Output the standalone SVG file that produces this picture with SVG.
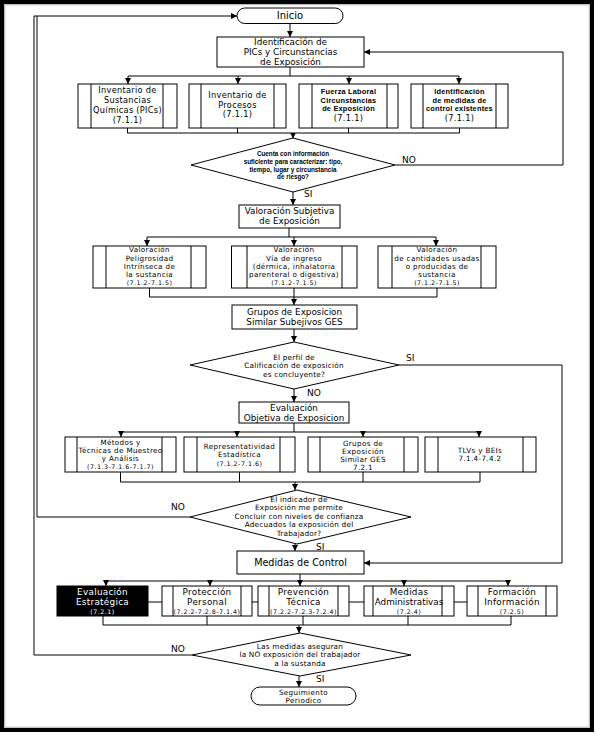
<svg xmlns="http://www.w3.org/2000/svg" width="596" height="735" viewBox="0 0 596 735">
<defs>
<marker id="arr" viewBox="0 0 10 10" refX="10" refY="5" markerWidth="6" markerHeight="6" markerUnits="userSpaceOnUse" orient="auto">
<path d="M0,0 L10,5 L0,10 z" fill="#000"/>
</marker>
</defs>
<style>
.bx{fill:#fff;stroke:#000;stroke-width:1}
.in{stroke:#000;stroke-width:1;fill:none}
.dm{fill:#fff;stroke:#000;stroke-width:1}
.cn path{fill:none;stroke:#000;stroke-width:1}
.ar{marker-end:url(#arr)}
text{font-family:"DejaVu Sans","Liberation Sans",sans-serif;fill:#000;text-anchor:middle}
.t{font-size:8.8px}
.m{font-size:8.2px;letter-spacing:0.3px}
.s{font-size:7.2px;letter-spacing:0.35px}
.c{font-size:6.3px;letter-spacing:0.5px}
.b{font-family:"Liberation Sans",sans-serif;font-weight:bold;font-size:7.4px;letter-spacing:0.2px}
.d1{font-family:"Liberation Sans",sans-serif;font-weight:bold;font-size:6.3px}
.d{font-size:7.3px;letter-spacing:0.2px}
.l{font-size:9px;text-anchor:start}
.w{fill:#fff}
</style>
<rect x="2" y="2" width="590" height="728" fill="#fff" stroke="#000" stroke-width="4"/>
<rect x="4.8" y="4.8" width="584.4" height="722.4" fill="none" stroke="#999" stroke-width="0.8"/>

<g id="connectors" class="cn">
<path class="ar" d="M290,23 V37"/>
<path d="M290,67 V76 M128,76 H459"/>
<path class="ar" d="M128,76 V84"/>
<path class="ar" d="M238,76 V84"/>
<path class="ar" d="M349,76 V84"/>
<path class="ar" d="M459,76 V84"/>
<path d="M127.5,128 V133 M237.5,128 V133 M348.5,128 V133 M459.5,128 V133 M127.5,133 H459.5"/>
<path class="ar" d="M293,133 V138.5"/>
<path class="ar" d="M395,165 H563 V52 H364"/>
<path class="ar" d="M293,192 V205"/>
<path d="M289,228 V237 M147,237 H436"/>
<path class="ar" d="M147,237 V246"/>
<path class="ar" d="M294,237 V246"/>
<path class="ar" d="M436,237 V246"/>
<path d="M149.5,288 V297 M294,288 V297 M437,288 V297 M149.5,297 H437"/>
<path class="ar" d="M294,297 V305"/>
<path class="ar" d="M294,329 V342"/>
<path class="ar" d="M399,365 H562 V563 H364"/>
<path class="ar" d="M294,389 V402"/>
<path d="M294,423 V432 M121,432 H479"/>
<path class="ar" d="M121,432 V437"/>
<path class="ar" d="M237,432 V437"/>
<path class="ar" d="M363,432 V437"/>
<path class="ar" d="M479,432 V437"/>
<path d="M120.5,472 V482 M239.5,472 V482 M363,472 V482 M480,472 V482 M120.5,482 H480"/>
<path class="ar" d="M295,482 V490"/>
<path d="M190,517 H37 V16"/>
<path class="ar" d="M192,655 H34 V16 H237"/>
<path class="ar" d="M295,544 V551"/>
<path d="M300,574 V581 M106,581 H508"/>
<path class="ar" d="M106,581 V586"/>
<path class="ar" d="M210,581 V586"/>
<path class="ar" d="M300,581 V586"/>
<path class="ar" d="M404,581 V586"/>
<path class="ar" d="M508,581 V586"/>
<path d="M148,602 H162 M252,602 H258 M349,602 H364 M454,602 H467"/>
<path d="M103,616 V625 M207,616 V625 M303,616 V625 M408,616 V625 M511,616 V625 M103,625 H511"/>
<path class="ar" d="M299,625 V633"/>
<path class="ar" d="M299,676 V687"/>
</g>

<g id="inicio">
<rect class="bx" x="237" y="8" width="106" height="15.5" rx="7.75"/>
<text x="290" y="19.3" font-size="10">Inicio</text>
</g>

<g id="identificacion">
<rect class="bx" x="217" y="37" width="147" height="30"/>
<text class="t" x="290.5" y="45">Identificación de</text>
<text class="t" x="290.5" y="55">PICs y Circunstancias</text>
<text class="t" x="290.5" y="65">de Exposición</text>
</g>

<g id="inv-sustancias">
<rect class="bx" x="78" y="84" width="99" height="44"/>
<path class="in" d="M91,84 V128 M163,84 V128"/>
<text class="m" x="127.5" y="93">Inventario de</text>
<text class="m" x="127.5" y="103">Sustancias</text>
<text class="m" x="127.5" y="113">Químicas (PICs)</text>
<text class="m" x="127.5" y="122.5">(7.1.1)</text>
</g>

<g id="inv-procesos">
<rect class="bx" x="189" y="84" width="97" height="44"/>
<path class="in" d="M201,84 V128 M274,84 V128"/>
<text class="m" x="237.5" y="98">Inventario de</text>
<text class="m" x="237.5" y="107.5">Procesos</text>
<text class="m" x="237.5" y="117">(7.1.1)</text>
</g>

<g id="fuerza-laboral">
<rect class="bx" x="299" y="84" width="99" height="44"/>
<path class="in" d="M312,84 V128 M387,84 V128"/>
<text class="b" x="348.5" y="94">Fuerza Laboral</text>
<text class="b" x="348.5" y="102.5">Circunstancias</text>
<text class="b" x="348.5" y="111">de Exposición</text>
<text class="m" x="348.5" y="120.5">(7.1.1)</text>
</g>

<g id="medidas-existentes">
<rect class="bx" x="411" y="84" width="97" height="44"/>
<path class="in" d="M423,84 V128 M496,84 V128"/>
<text class="b" x="459.5" y="94">Identificación</text>
<text class="b" x="459.5" y="102.5">de medidas de</text>
<text class="b" x="459.5" y="111">control existentes</text>
<text class="m" x="459.5" y="120.5">(7.1.1)</text>
</g>

<g id="decision-informacion">
<polygon class="dm" points="293,138 395,165 293,192 191,165"/>
<text class="d1" x="293" y="156.3">Cuenta con información</text>
<text class="d1" x="293" y="164">suficiente para caracterizar: tipo,</text>
<text class="d1" x="293" y="171.5">tiempo, lugar y circunstancia</text>
<text class="d1" x="293" y="179">de riesgo?</text>
<text class="l" x="402" y="162.5">NO</text>
<text class="l" x="304" y="197">SI</text>
</g>

<g id="valoracion-subjetiva">
<rect class="bx" x="239" y="205" width="101" height="23"/>
<text class="t" x="289.5" y="214">Valoración Subjetiva</text>
<text class="t" x="289.5" y="224.3">de Exposición</text>
</g>

<g id="peligrosidad">
<rect class="bx" x="93" y="246" width="113" height="42"/>
<path class="in" d="M106,246 V288 M191,246 V288"/>
<text class="s" x="149.5" y="252">Valoración</text>
<text class="s" x="149.5" y="260.5">Peligrosidad</text>
<text class="s" x="149.5" y="268.7">Intrínseca de</text>
<text class="s" x="149.5" y="276.9">la sustancia</text>
<text class="c" x="149.5" y="285">(7.1.2-7.1.5)</text>
</g>

<g id="via-ingreso">
<rect class="bx" x="231.5" y="246" width="125.5" height="42"/>
<path class="in" d="M247,246 V288 M342,246 V288"/>
<text class="s" x="294" y="252">Valoración</text>
<text class="s" x="294" y="260.5">Vía de ingreso</text>
<text class="s" x="294" y="268.7">(dérmica, inhalatoria</text>
<text class="s" x="294" y="276.9">parenteral o digestiva)</text>
<text class="c" x="294" y="285">(7.1.2-7.1.5)</text>
</g>

<g id="cantidades">
<rect class="bx" x="378" y="246" width="118" height="42"/>
<path class="in" d="M392,246 V288 M481,246 V288"/>
<text class="s" x="437" y="252">Valoración</text>
<text class="s" x="437" y="260.5">de cantidades usadas</text>
<text class="s" x="437" y="268.7">o producidas de</text>
<text class="s" x="437" y="276.9">sustancia</text>
<text class="c" x="437" y="285">(7.1.2-7.1.5)</text>
</g>

<g id="grupos-subjetivos">
<rect class="bx" x="232" y="305" width="125" height="24"/>
<text class="t" x="294.5" y="315">Grupos de Exposicion</text>
<text class="t" x="294.5" y="325.3">Similar Subejivos GES</text>
</g>

<g id="decision-perfil">
<polygon class="dm" points="294,342 399,365 294,389 190,365"/>
<text class="d" x="294" y="359.5">El perfil de</text>
<text class="d" x="294" y="368">Calificación de exposición</text>
<text class="d" x="294" y="377">es concluyente?</text>
<text class="l" x="406" y="360.5">SI</text>
<text class="l" x="307" y="395.5">NO</text>
</g>

<g id="evaluacion-objetiva">
<rect class="bx" x="239" y="402" width="110" height="21"/>
<text class="t" x="294" y="410.5" font-size="8.4">Evaluación</text>
<text class="t" x="294" y="420.6" font-size="8.4">Objetiva de Exposicion</text>
</g>

<g id="metodos">
<rect class="bx" x="65" y="437" width="111" height="35"/>
<path class="in" d="M77,437 V472 M162,437 V472"/>
<text class="s" x="120.5" y="444.7">Métodos y</text>
<text class="s" x="120.5" y="452.7">Técnicas de Muestreo</text>
<text class="s" x="120.5" y="460.7">y Análisis</text>
<text class="c" x="120.5" y="468.9">(7.1.3-7.1.6-7.1.7)</text>
</g>

<g id="representatividad">
<rect class="bx" x="184" y="437" width="111" height="35"/>
<path class="in" d="M197,437 V472 M280,437 V472"/>
<text class="s" x="239.5" y="448.7">Representatividad</text>
<text class="s" x="239.5" y="456.7">Estadística</text>
<text class="c" x="239.5" y="465.5">(7.1.2-7.1.6)</text>
</g>

<g id="grupos-ges">
<rect class="bx" x="308" y="437" width="110" height="35"/>
<path class="in" d="M320,437 V472 M404,437 V472"/>
<text class="s" x="363" y="445.5">Grupos de</text>
<text class="s" x="363" y="453.5">Exposición</text>
<text class="s" x="363" y="461.5">Similar GES</text>
<text class="s" x="363" y="469.7">7.2.1</text>
</g>

<g id="tlvs">
<rect class="bx" x="425" y="437" width="111" height="35"/>
<path class="in" d="M438,437 V472 M523,437 V472"/>
<text class="s" x="480" y="452.7">TLVs y BEIs</text>
<text class="s" x="480" y="460.9">7.1.4-7.4.2</text>
</g>

<g id="decision-indicador">
<polygon class="dm" points="297,490 411,517 297,544 190,517"/>
<text class="d" x="299" y="501.5">El indicador de</text>
<text class="d" x="299" y="510">Exposición me permite</text>
<text class="d" x="299" y="518.5">Concluir con niveles de confianza</text>
<text class="d" x="299" y="527">Adecuados la exposición del</text>
<text class="d" x="299" y="535.5">Trabajador?</text>
<text class="l" x="171" y="509.5">NO</text>
<text class="l" x="316" y="550">SI</text>
</g>

<g id="medidas-control">
<rect class="bx" x="237" y="551" width="127" height="23"/>
<text x="300.5" y="566" font-size="9.6">Medidas de Control</text>
</g>

<g id="evaluacion-estrategica">
<rect x="57" y="586" width="91" height="30" fill="#000" stroke="#000"/>
<text class="t w" x="102.5" y="595" letter-spacing="0.3">Evaluación</text>
<text class="t w" x="102.5" y="605.2" letter-spacing="0.3">Estratégica</text>
<text class="c w" x="102.5" y="613.6">(7.2.1)</text>
</g>

<g id="proteccion">
<rect class="bx" x="162" y="586" width="90" height="30"/>
<path class="in" d="M173,586 V616 M241,586 V616"/>
<text class="t" x="207" y="595" letter-spacing="0.3">Protección</text>
<text class="t" x="207" y="605.2" letter-spacing="0.3">Personal</text>
<text class="c" x="207" y="613.6" font-size="5.6" letter-spacing="0.4">(7.2.2-7.2.8-7.1.4)</text>
</g>

<g id="prevencion">
<rect class="bx" x="258" y="586" width="91" height="30"/>
<path class="in" d="M269,586 V616 M338,586 V616"/>
<text class="t" x="303.5" y="595" letter-spacing="0.3">Prevención</text>
<text class="t" x="303.5" y="605.2" letter-spacing="0.3">Técnica</text>
<text class="c" x="303.5" y="613.6" font-size="5.6" letter-spacing="0.4">(7.2.2-7.2.3-7.2.4)</text>
</g>

<g id="administrativas">
<rect class="bx" x="364" y="586" width="90" height="30"/>
<path class="in" d="M373,586 V616 M442,586 V616"/>
<text class="t" x="409" y="595" letter-spacing="0.3">Medidas</text>
<text class="t" x="409" y="605.2">Administrativas</text>
<text class="c" x="409" y="613.6">(7.2.4)</text>
</g>

<g id="formacion">
<rect class="bx" x="467" y="586" width="90" height="30"/>
<path class="in" d="M478,586 V616 M546,586 V616"/>
<text class="t" x="512" y="595" letter-spacing="0.3">Formación</text>
<text class="t" x="512" y="605.2" letter-spacing="0.3">Información</text>
<text class="c" x="512" y="613.6">(7.2.5)</text>
</g>

<g id="decision-medidas">
<polygon class="dm" points="300,633 411,655 300,676 192,655"/>
<text class="d" x="300" y="648.5">Las medidas aseguran</text>
<text class="d" x="300" y="657">la NO exposición del trabajador</text>
<text class="d" x="300" y="665.5">a la sustanda</text>
<text class="l" x="171" y="652">NO</text>
<text class="l" x="316" y="681.5">SI</text>
</g>

<g id="seguimiento">
<rect class="bx" x="251" y="687" width="105" height="18" rx="9"/>
<text class="s" x="303.5" y="694.6">Seguimiento</text>
<text class="s" x="303.5" y="703">Periodico</text>
</g>
</svg>
